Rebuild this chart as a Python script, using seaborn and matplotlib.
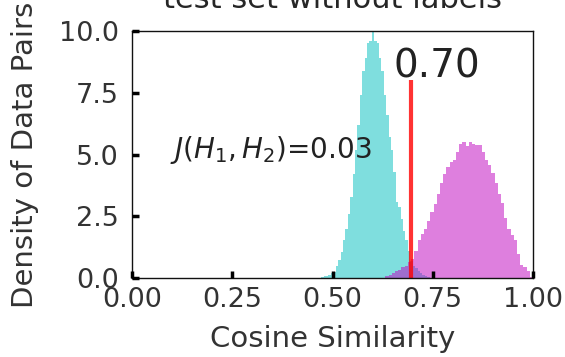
import matplotlib
matplotlib.use("Agg")
import matplotlib.pyplot as plt
import numpy as np
import pandas as pd
import seaborn as sns

# histogram (density per bin)
pos_lo, pos_width = 0.472, 0.006
pos_heights = [0.05, 0.1, 0.1, 0.15, 0.2, 0.27, 0.5, 0.74, 1.08, 1.55,
               2.0, 2.6, 3.3, 4.2, 5.2, 6.2, 7.4, 8.4, 8.9, 9.5,
               9.6, 10.6, 9.6, 9.5, 8.9, 8.4, 7.4, 6.6, 5.7, 5.2,
               4.3, 3.1, 2.9, 2.4, 1.9, 1.55, 1.1, 0.7, 0.5, 0.4,
               0.3, 0.2, 0.15, 0.1, 0.05, 0.03]

neg_lo, neg_width = 0.632, 0.008
neg_heights = [0.08, 0.15, 0.2, 0.3, 0.35, 0.45, 0.5, 0.65, 0.8, 1.1,
               1.55, 1.8, 2.0, 2.3, 2.7, 3.0, 3.4, 3.85, 4.2, 4.5,
               4.7, 4.8, 5.1, 5.45, 5.5, 5.35, 5.5, 5.45, 5.4, 5.4,
               5.1, 4.8, 4.6, 4.25, 3.85, 3.4, 3.05, 2.45, 2.0, 1.75,
               1.55, 1.0, 0.55, 0.45, 0.3, 0.06]

threshold = 0.696
threshold_top = 8.0
j_value = 0.03

sns.set_style("white")
plt.rcParams["font.family"] = ["DejaVu Sans"]

fig = plt.figure(figsize=(5.65, 3.57), dpi=100)
ax = fig.add_axes([0.2336, 0.2204, 0.7098, 0.6928])
ax.set_axisbelow(False)


def draw_hist(lo, width, heights, color):
    n = len(heights)
    centers = lo + width * (np.arange(n) + 0.5)
    df = pd.DataFrame({"sim": centers, "h": heights})
    sns.histplot(data=df, x="sim", weights="h", binwidth=width,
                 binrange=(lo, lo + width * n), stat="count",
                 element="step", fill=True, color=color, alpha=0.5,
                 linewidth=0, ax=ax)


draw_hist(pos_lo, pos_width, pos_heights, "c")
draw_hist(neg_lo, neg_width, neg_heights, "m")

ax.vlines(threshold, 0, threshold_top, color="red", alpha=0.8, lw=3)
ax.text(threshold - 0.044, 8.1, f"{threshold:.2f}", fontsize=28,
        va="baseline", color="#222222")
ax.text(0.095, 4.86, r"$J(H_1,H_2)$=" + f"{j_value:.2f}", fontsize=20,
        va="baseline", color="#222222")

ax.set_xlim(0, 1)
ax.set_ylim(0, 10)
ax.set_xticks([0, 0.25, 0.5, 0.75, 1.0])
ax.set_yticks([0, 2.5, 5, 7.5, 10])
ax.tick_params(direction="in", length=5, width=2.5, labelsize=19.5,
               color="black", labelcolor="#333333",
               bottom=True, left=True, top=False, right=False)
ax.tick_params(axis="x", pad=6)
ax.tick_params(axis="y", pad=9.5)
for s in ax.spines.values():
    s.set_visible(True)
    s.set_color("#111111")
    s.set_linewidth(1.0)

ax.set_xlabel("Cosine Similarity", fontsize=21, color="#333333",
              labelpad=9)
ax.set_ylabel("Density of Data Pairs", fontsize=21, color="#333333",
              labelpad=14)
ax.set_title("test set without labels", fontsize=22, pad=16.5)

fig.savefig("out.png", dpi=100)
